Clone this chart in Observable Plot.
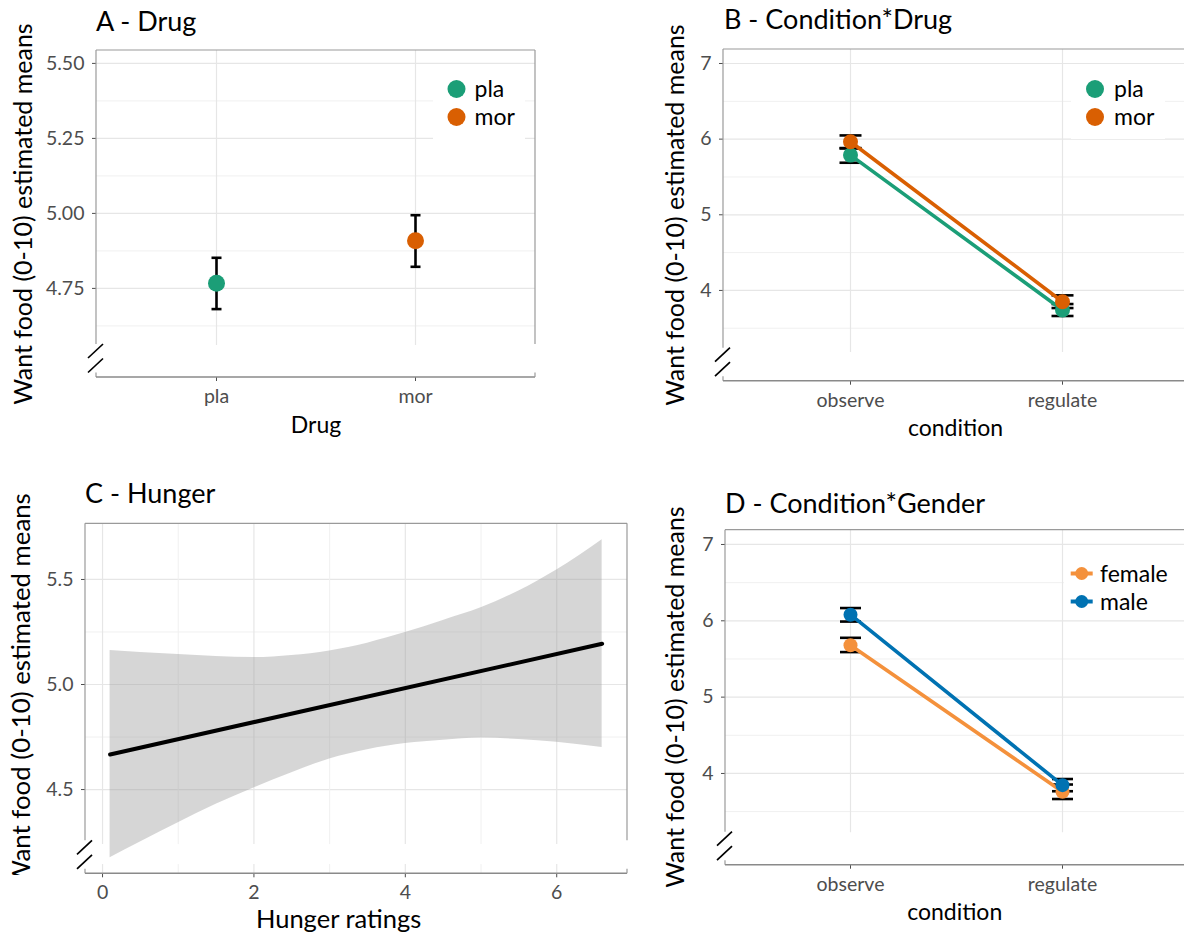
<!DOCTYPE html>
<html><head><meta charset="utf-8">
<script src="https://cdn.jsdelivr.net/npm/d3@7"></script>
<script src="https://cdn.jsdelivr.net/npm/@observablehq/plot@0.6"></script>
<style>
body{margin:0;background:#fff;font-family:Lato,"Open Sans",sans-serif;}
#root{position:relative;width:1184px;height:938px;overflow:hidden;background:#fff;}
.panel{position:absolute;}
.txt{position:absolute;white-space:nowrap;color:#000;line-height:1;font-family:Lato,"Open Sans",sans-serif;}
.ptitle{font-size:27px;}
.xtitle{font-size:23px;transform:translateX(-50%);}
.ytitle{font-size:25px;transform-origin:0 0;transform:rotate(-90deg) translateX(-50%);}
.bigx{font-size:25.5px;line-height:0.85;}
.bigy{font-size:25.8px;}
.legend{position:absolute;background:#fff;}
.clip{position:absolute;overflow:hidden;}
</style></head><body><div id="root"></div>
<script>
// ---------------- DATA ----------------
// Panel A - Drug
const drugLevels = ["pla", "mor"];
const drugMean  = [4.767, 4.909];
const drugLower = [4.681, 4.822];
const drugUpper = [4.852, 4.994];
const drugColors = ["#1b9e77", "#d95f02"];
const drugTicks = [4.75, 5.00, 5.25, 5.50];

// Panel B - Condition*Drug
const conditions = ["observe", "regulate"];
const cdDrug      = ["pla", "pla", "mor", "mor"];
const cdCondition = ["observe", "regulate", "observe", "regulate"];
const cdMean  = [5.789, 3.741, 5.966, 3.851];
const cdLower = [5.688, 3.662, 5.882, 3.767];
const cdUpper = [5.877, 3.820, 6.049, 3.935];
const condTicks = [4, 5, 6, 7];

// Panel C - Hunger
const hungerLineX = [0.1, 6.6];
const hungerLineY = [4.667, 5.194];
const hungerBandX  = [0.1, 0.5, 1, 1.5, 2, 2.5, 3, 3.5, 4, 4.5, 5, 5.5, 6, 6.6];
const hungerBandLo = [4.175, 4.25, 4.342, 4.43, 4.508, 4.58, 4.646, 4.69, 4.719, 4.735, 4.745, 4.738, 4.725, 4.70];
const hungerBandHi = [5.162, 5.152, 5.143, 5.133, 5.128, 5.138, 5.160, 5.197, 5.247, 5.305, 5.365, 5.445, 5.545, 5.689];
const hungerXTicks = [0, 2, 4, 6];
const hungerYTicks = [4.5, 5.0, 5.5];

// Panel D - Condition*Gender
const genderLevels = ["female", "male"];
const genderColors = ["#f4913c", "#0072b2"];
const cgGender    = ["female", "female", "male", "male"];
const cgCondition = ["observe", "regulate", "observe", "regulate"];
const cgMean  = [5.68, 3.76, 6.08, 3.847];
const cgLower = [5.59, 3.665, 5.99, 3.767];
const cgUpper = [5.777, 3.855, 6.167, 3.927];

const yTitle = "Want food (0-10) estimated means";

// ---------------- HELPERS ----------------
const root = document.getElementById("root");
const GRID_MAJOR = "#e6e6e6", GRID_MINOR = "#f0f0f0", BORDER = "#9a9a9a";

function cap() { // horizontal bar symbol for error-bar caps
  return {draw(ctx, size) { const w = Math.sqrt(size / Math.PI); ctx.moveTo(-w, 0); ctx.lineTo(w, 0); }};
}

function frameMark(o) {
  return (index, scales, values, dims) => {
    const y = scales.y;
    const L = dims.marginLeft, R = dims.width - dims.marginRight;
    const T = y(o.yMax), A = y(o.yMin);
    const g = d3.create("svg:g").attr("fill", "none");
    const ln = (x1, y1, x2, y2, s, w) => g.append("line").attr("x1", x1).attr("y1", y1).attr("x2", x2).attr("y2", y2).attr("stroke", s).attr("stroke-width", w);
    ln(L, T, R, T, BORDER, 1.2);
    ln(L, T, L, A - 33, BORDER, 1.2);
    ln(L, A - 4.5, L, A, BORDER, 1.2);
    ln(L, A, R, A, "#8a8a8a", 1.4);
    ln(L - 8, A - 19, L + 7, A - 33, "#000", 1.7);
    ln(L - 8, A - 4.5, L + 7, A - 18.5, "#000", 1.7);
    if (o.right) { ln(R, T, R, A - 33, BORDER, 1.2); ln(R, A - 4.5, R, A, BORDER, 1.2); }
    return g.node();
  };
}

function mount(plot, left, top, width, height) {
  plot.style.background = "transparent";
  plot.style.overflow = "visible";
  plot.style.fontFamily = "Lato, 'Open Sans', sans-serif";
  plot.style.fontSize = "19.5px";
  plot.style.color = "#4d4d4d";
  plot.style.maxWidth = "none";
  const d = document.createElement("div");
  d.className = "panel";
  Object.assign(d.style, {left: left + "px", top: top + "px", width: width + "px", height: height + "px"});
  d.appendChild(plot);
  root.appendChild(d);
}

function text(cls, str, left, top, parent = root) {
  const d = document.createElement("div");
  d.className = "txt " + cls;
  d.textContent = str;
  d.style.left = left + "px"; d.style.top = top + "px";
  parent.appendChild(d);
  return d;
}

function legend(left, top, w, h, labels, colors, o) {
  const d = document.createElement("div");
  d.className = "legend";
  Object.assign(d.style, {left: left + "px", top: top + "px", width: w + "px", height: h + "px"});
  const s = d3.create("svg").attr("width", w).attr("height", h).style("display", "block").style("overflow", "visible")
    .style("font-family", "Lato, 'Open Sans', sans-serif");
  labels.forEach((lab, i) => {
    const cy = o.y0 + i * o.dy;
    if (o.line) s.append("line").attr("x1", o.mx - 11).attr("x2", o.mx + 11).attr("y1", cy).attr("y2", cy)
      .attr("stroke", colors[i]).attr("stroke-width", 4);
    s.append("circle").attr("cx", o.mx).attr("cy", cy).attr("r", o.r).attr("fill", colors[i]);
    s.append("text").attr("x", o.tx).attr("y", cy).attr("dy", "0.35em").attr("font-size", 23).attr("fill", "#000").text(lab);
  });
  d.appendChild(s.node());
  root.appendChild(d);
}

// ---------------- PANEL A ----------------
{
  const rows = drugLevels.map((k, i) => ({drug: k, mean: drugMean[i], lo: drugLower[i], hi: drugUpper[i], color: drugColors[i]}));
  const yMin = 4.453, yMax = 5.543, gb = 4.56;
  const minor = [4.625, 4.875, 5.125, 5.375];
  const p = Plot.plot({
    width: 592, height: 469,
    marginTop: 50, marginRight: 57, marginBottom: 92, marginLeft: 96,
    x: {type: "point", domain: drugLevels, range: [216, 415], padding: 0, label: null, tickSize: 4, tickPadding: 8},
    y: {domain: [yMin, yMax], label: null, ticks: drugTicks, tickFormat: d3.format(".2f"), tickSize: 4, tickPadding: 8},
    marks: [
      Plot.ruleY(minor, {stroke: GRID_MINOR, strokeWidth: 1}),
      Plot.ruleY(drugTicks, {stroke: GRID_MAJOR, strokeWidth: 1.2}),
      Plot.ruleX(drugLevels, {y1: gb, y2: yMax, stroke: GRID_MAJOR, strokeWidth: 1.2}),
      frameMark({yMin, yMax, right: true}),
      Plot.ruleX(rows, {x: "drug", y1: "lo", y2: "hi", stroke: "#000", strokeWidth: 2.6}),
      Plot.dot(rows, {x: "drug", y: "lo", symbol: cap(), r: 5, stroke: "#000", strokeWidth: 2.6, fill: "none"}),
      Plot.dot(rows, {x: "drug", y: "hi", symbol: cap(), r: 5, stroke: "#000", strokeWidth: 2.6, fill: "none"}),
      Plot.dot(rows, {x: "drug", y: "mean", r: 8.5, fill: d => d.color, stroke: "none"})
    ]
  });
  mount(p, 0, 0, 592, 469);
  legend(433, 75, 92, 64, drugLevels, drugColors, {mx: 23.5, tx: 41.5, y0: 14, dy: 28, r: 9});
  text("ptitle", "A - Drug", 96, 7);
  text("xtitle", "Drug", 316, 413);
  text("ytitle", yTitle, 10, 213.5);
}

// ---------------- PANEL B ----------------
{
  const color = {pla: drugColors[0], mor: drugColors[1]};
  const rows = cdMean.map((m, i) => ({drug: cdDrug[i], cond: cdCondition[i], mean: m, lo: cdLower[i], hi: cdUpper[i]}));
  const yMin = 2.80, yMax = 7.185, gb = 3.18;
  const minor = [3.5, 4.5, 5.5, 6.5];
  const p = Plot.plot({
    width: 592, height: 469,
    marginTop: 49, marginRight: 0, marginBottom: 88.3, marginLeft: 131,
    x: {type: "point", domain: conditions, range: [258, 470], padding: 0, label: null, tickSize: 4, tickPadding: 8},
    y: {domain: [yMin, yMax], label: null, ticks: condTicks, tickFormat: d3.format("d"), tickSize: 4, tickPadding: 8},
    marks: [
      Plot.ruleY(minor, {stroke: GRID_MINOR, strokeWidth: 1}),
      Plot.ruleY(condTicks, {stroke: GRID_MAJOR, strokeWidth: 1.2}),
      Plot.ruleX(conditions, {y1: gb, y2: yMax, stroke: GRID_MAJOR, strokeWidth: 1.2}),
      frameMark({yMin, yMax, right: false}),
      Plot.ruleX(rows, {x: "cond", y1: "lo", y2: "hi", stroke: "#000", strokeWidth: 2.6}),
      Plot.dot(rows, {x: "cond", y: "lo", symbol: cap(), r: 11, stroke: "#000", strokeWidth: 2.6, fill: "none"}),
      Plot.dot(rows, {x: "cond", y: "hi", symbol: cap(), r: 11, stroke: "#000", strokeWidth: 2.6, fill: "none"}),
      Plot.line(rows, {x: "cond", y: "mean", z: "drug", stroke: d => color[d.drug], strokeWidth: 3.6}),
      Plot.dot(rows, {x: "cond", y: "mean", r: 7.5, fill: d => color[d.drug], stroke: "none"})
    ]
  });
  mount(p, 592, 0, 592, 469);
  legend(1071, 76, 94, 63, drugLevels, drugColors, {mx: 24, tx: 43, y0: 13, dy: 28, r: 9});
  text("ptitle", "B - Condition*Drug", 724, 5);
  text("xtitle", "condition", 955.5, 415.5);
  text("ytitle", yTitle, 661.5, 215);
}

// ---------------- PANEL C ----------------
{
  const band = hungerBandX.map((x, i) => ({x, lo: hungerBandLo[i], hi: hungerBandHi[i]}));
  const line = hungerLineX.map((x, i) => ({x, y: hungerLineY[i]}));
  const yMin = 4.099, yMax = 5.765, gb = 4.238, stub = 4.143;
  const xMinor = [1, 3, 5];
  const yMinor = [4.75, 5.25];
  const p = Plot.plot({
    width: 640, height: 469,
    marginTop: 54.3, marginRight: 13, marginBottom: 64.7, marginLeft: 85,
    x: {domain: [-0.225, 6.935], label: null, ticks: hungerXTicks, tickFormat: d3.format("d"), tickSize: 4, tickPadding: 7},
    y: {domain: [yMin, yMax], label: null, ticks: hungerYTicks, tickFormat: d3.format(".1f"), tickSize: 4, tickPadding: 8},
    marks: [
      Plot.ruleY(yMinor, {stroke: GRID_MINOR, strokeWidth: 1}),
      Plot.ruleY(hungerYTicks, {stroke: GRID_MAJOR, strokeWidth: 1.2}),
      Plot.ruleX(xMinor, {y1: gb, y2: yMax, stroke: GRID_MINOR, strokeWidth: 1}),
      Plot.ruleX(hungerXTicks, {y1: gb, y2: yMax, stroke: GRID_MAJOR, strokeWidth: 1.2}),
      Plot.ruleX(xMinor, {y1: yMin, y2: stub, stroke: GRID_MINOR, strokeWidth: 1}),
      Plot.ruleX(hungerXTicks, {y1: yMin, y2: stub, stroke: GRID_MAJOR, strokeWidth: 1.2}),
      frameMark({yMin, yMax, right: true}),
      Plot.areaY(band, {x: "x", y1: "lo", y2: "hi", fill: "#999999", fillOpacity: 0.4, curve: "monotone-x"}),
      Plot.line(line, {x: "x", y: "y", stroke: "#000", strokeWidth: 4})
    ]
  });
  mount(p, 0, 469, 640, 469);
  text("ptitle", "C - Hunger", 85, 479);
  text("xtitle bigx", "Hunger ratings", 338.6, 908);
  const clip = document.createElement("div");
  clip.className = "clip";
  Object.assign(clip.style, {left: "0px", top: "469px", width: "60px", height: "406px"});
  root.appendChild(clip);
  text("ytitle bigy", yTitle, 7.5, 690 - 469, clip);
}

// ---------------- PANEL D ----------------
{
  const color = {female: genderColors[0], male: genderColors[1]};
  const rows = cgMean.map((m, i) => ({g: cgGender[i], cond: cgCondition[i], mean: m, lo: cgLower[i], hi: cgUpper[i]}));
  const yMin = 2.798, yMax = 7.187, gb = 3.223;
  const minor = [3.5, 4.5, 5.5, 6.5];
  const p = Plot.plot({
    width: 592, height: 469,
    marginTop: 60.7, marginRight: 0, marginBottom: 73.3, marginLeft: 133,
    x: {type: "point", domain: conditions, range: [258, 470], padding: 0, label: null, tickSize: 4, tickPadding: 8},
    y: {domain: [yMin, yMax], label: null, ticks: condTicks, tickFormat: d3.format("d"), tickSize: 4, tickPadding: 8},
    marks: [
      Plot.ruleY(minor, {stroke: GRID_MINOR, strokeWidth: 1}),
      Plot.ruleY(condTicks, {stroke: GRID_MAJOR, strokeWidth: 1.2}),
      Plot.ruleX(conditions, {y1: gb, y2: yMax, stroke: GRID_MAJOR, strokeWidth: 1.2}),
      frameMark({yMin, yMax, right: false}),
      Plot.ruleX(rows, {x: "cond", y1: "lo", y2: "hi", stroke: "#000", strokeWidth: 2.6}),
      Plot.dot(rows, {x: "cond", y: "lo", symbol: cap(), r: 10.5, stroke: "#000", strokeWidth: 2.6, fill: "none"}),
      Plot.dot(rows, {x: "cond", y: "hi", symbol: cap(), r: 10.5, stroke: "#000", strokeWidth: 2.6, fill: "none"}),
      Plot.line(rows, {x: "cond", y: "mean", z: "g", stroke: d => color[d.g], strokeWidth: 3.6}),
      Plot.dot(rows, {x: "cond", y: "mean", r: 7, fill: d => color[d.g], stroke: "none"})
    ]
  });
  mount(p, 592, 469, 592, 469);
  legend(1064, 548, 120, 69, genderLevels, genderColors, {mx: 17.7, tx: 36, y0: 25.5, dy: 28, r: 6.5, line: true});
  text("ptitle", "D - Condition*Gender", 725, 489);
  text("xtitle", "condition", 954.7, 899.5);
  text("ytitle", yTitle, 661.5, 697);
}
</script></body></html>
